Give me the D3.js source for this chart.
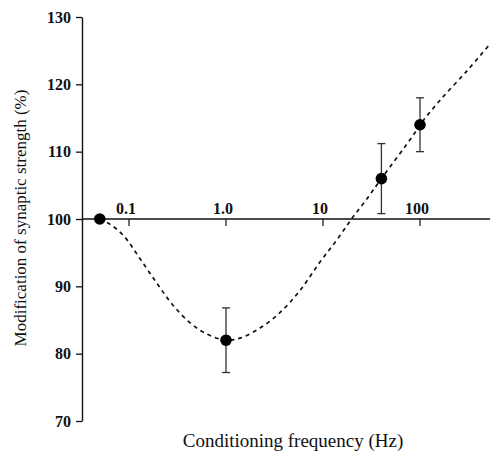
<!DOCTYPE html>
<html>
<head>
<meta charset="utf-8">
<script src="https://cdn.jsdelivr.net/npm/d3@7"></script>
<style>
  body { margin: 0; background: #fff; }
  text { font-family: "Liberation Serif", "DejaVu Serif", serif; fill: #111; }
</style>
</head>
<body>
<div id="chart"></div>
<script>
// measured points (frequency in Hz, % change, error)
var freqs = [0.05, 1.0, 40, 100];
var values = [100, 82, 106, 114];
var errors = [0, 4.8, 5.2, 4];

// dashed fit curve
var curveFreqs = [0.05, 0.064, 0.087, 0.13, 0.195, 0.284, 0.425, 0.637, 1.0, 1.39, 2.24, 3.6, 5.8, 9.3, 13.9, 19.9, 27.1, 40, 84.7, 100, 160, 305, 520];
var curveValues = [100, 99.2, 97.6, 94.1, 90.4, 87.2, 84.6, 82.9, 82.0, 82.3, 83.8, 86.1, 89.4, 93.6, 96.9, 100.1, 102.6, 106, 112.4, 114, 117.6, 122.0, 125.9];

var xTicks = [0.1, 1, 10, 100];
var xTickLabels = ["0.1", "1.0", "10", "100"];
var yTicks = [70, 80, 90, 100, 110, 120, 130];

var width = 491, height = 453;

var points = freqs.map(function(f, i) {
  return {f: f, v: values[i], e: errors[i]};
});

var svg = d3.select("#chart").append("svg")
    .attr("width", width)
    .attr("height", height);

var x = d3.scaleLog()
    .domain([0.1, 100])
    .range([129, 420]);

var y = d3.scaleLinear()
    .domain([70, 130])
    .range([421, 17]);

var left = 82, right = 490;

// y axis
svg.append("g")
    .attr("class", "axis axis--y")
    .attr("transform", "translate(" + left + ",0)")
    .call(d3.axisLeft(y).tickValues(yTicks).tickSize(6).tickPadding(5).tickSizeOuter(0))
    .call(function(g) {
      g.select(".domain").attr("stroke", "#111").attr("stroke-width", 1.4);
      g.selectAll(".tick line").attr("stroke", "#111").attr("stroke-width", 1.3);
      g.selectAll("text")
        .style("font-size", "16px")
        .style("font-weight", "bold")
        .style("font-family", "Liberation Serif, serif")
        .attr("fill", "#111");
    });

// horizontal axis at 100%
var gx = svg.append("g")
    .attr("class", "axis axis--x")
    .attr("transform", "translate(0," + y(100) + ")");

gx.append("line")
    .attr("x1", left)
    .attr("x2", right)
    .attr("stroke", "#111")
    .attr("stroke-width", 1.6);

gx.selectAll(".tick")
    .data(xTicks)
    .enter().append("line")
      .attr("class", "tick")
      .attr("x1", function(d) { return x(d); })
      .attr("x2", function(d) { return x(d); })
      .attr("y1", 0)
      .attr("y2", 7)
      .attr("stroke", "#111")
      .attr("stroke-width", 1.2);

gx.selectAll(".ticklabel")
    .data(xTicks)
    .enter().append("text")
      .attr("class", "ticklabel")
      .attr("x", function(d) { return x(d) - 3; })
      .attr("y", -5)
      .style("text-anchor", "middle")
      .style("font-size", "16px")
      .style("font-weight", "bold")
      .text(function(d, i) { return xTickLabels[i]; });

// fit curve
var line = d3.line()
    .x(function(d, i) { return x(curveFreqs[i]); })
    .y(function(d) { return y(d); })
    .curve(d3.curveCatmullRom);

svg.append("path")
    .attr("d", line(curveValues))
    .attr("fill", "none")
    .attr("stroke", "#111")
    .attr("stroke-width", 1.7)
    .attr("stroke-dasharray", "4,4");

// error bars
var bars = svg.selectAll(".err")
    .data(points.filter(function(d) { return d.e > 0; }))
    .enter().append("g")
      .attr("class", "err");

bars.append("line")
    .attr("x1", function(d) { return x(d.f); })
    .attr("x2", function(d) { return x(d.f); })
    .attr("y1", function(d) { return y(d.v + d.e); })
    .attr("y2", function(d) { return y(d.v - d.e); })
    .attr("stroke", "#333")
    .attr("stroke-width", 1.3);

[1, -1].forEach(function(s) {
  bars.append("line")
      .attr("x1", function(d) { return x(d.f) - 4; })
      .attr("x2", function(d) { return x(d.f) + 4; })
      .attr("y1", function(d) { return y(d.v + s * d.e); })
      .attr("y2", function(d) { return y(d.v + s * d.e); })
      .attr("stroke", "#333")
      .attr("stroke-width", 1.3);
});

// points
svg.selectAll(".dot")
    .data(points)
    .enter().append("circle")
      .attr("class", "dot")
      .attr("cx", function(d) { return x(d.f); })
      .attr("cy", function(d) { return y(d.v); })
      .attr("r", 5.8)
      .attr("fill", "#000");

// axis titles
svg.append("text")
    .attr("transform", "translate(26," + 218 + ") rotate(-90)")
    .style("text-anchor", "middle")
    .style("font-size", "17px")
    .text("Modification of synaptic strength (%)");

svg.append("text")
    .attr("x", 293)
    .attr("y", 447)
    .style("text-anchor", "middle")
    .style("font-size", "19px")
    .text("Conditioning frequency (Hz)");
</script>
</body>
</html>
